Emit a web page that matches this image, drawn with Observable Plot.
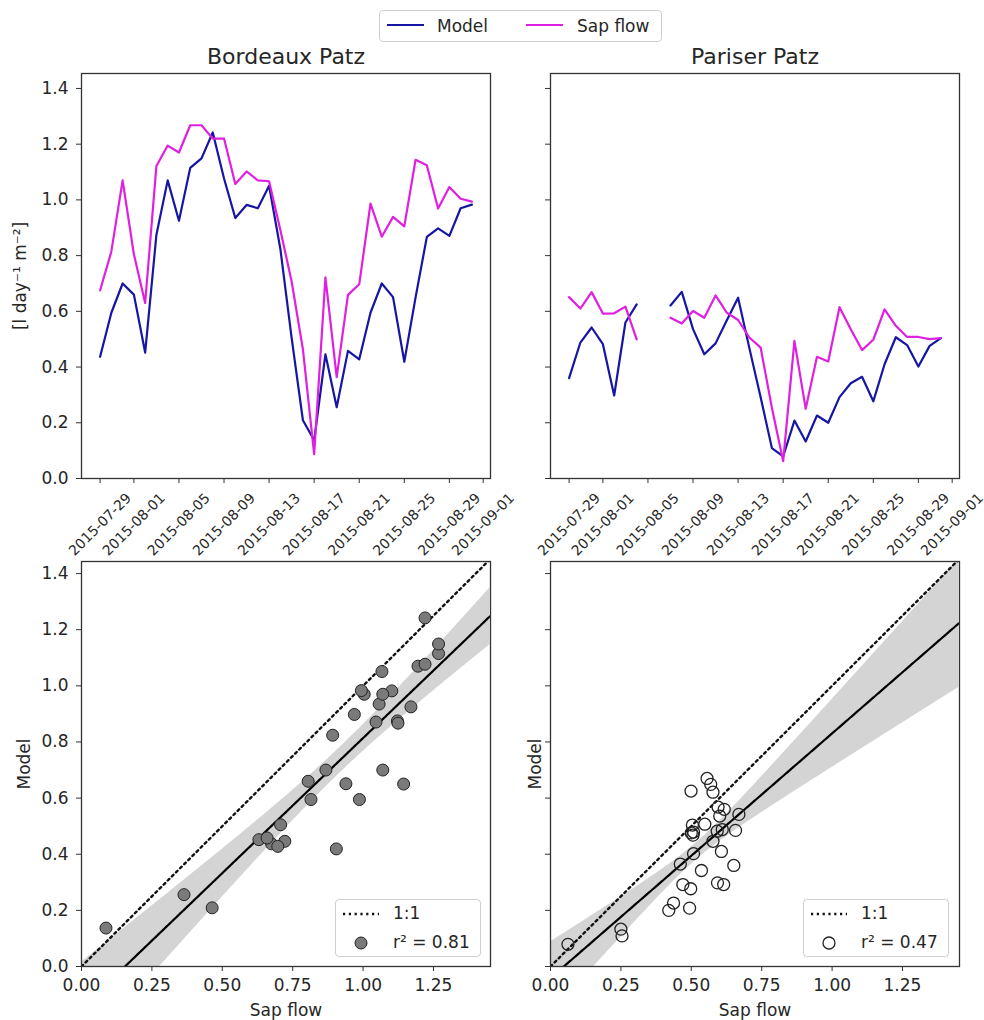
<!DOCTYPE html>
<html><head><meta charset="utf-8">
<script src="https://cdn.jsdelivr.net/npm/d3@7"></script>
<script src="https://cdn.jsdelivr.net/npm/@observablehq/plot@0.6"></script>
<style>
body{margin:0;background:#fff;font-family:"DejaVu Sans",sans-serif;color:#262626}
#fig{position:relative;width:984px;height:1020px;overflow:hidden;background:#fff}
.abs{position:absolute}
.lg{position:absolute;border:1px solid #cfcfcf;border-radius:4px;background:rgba(255,255,255,0.85);box-sizing:border-box}
.lg span{position:absolute;font-size:17px;line-height:20px;white-space:nowrap}
.lg svg{position:absolute;left:0;top:0;overflow:visible}
</style></head><body><div id="fig"></div>
<script>
// ---------------- data ----------------
const startDate = "2015-07-29";
const endDate = "2015-09-01"; // exclusive: last day 2015-08-31
const panelTitles = ["Bordeaux Patz", "Pariser Patz"];
const seriesNames = ["Model", "Sap flow"];
const dateTickLabels = ["2015-07-29","2015-08-01","2015-08-05","2015-08-09","2015-08-13","2015-08-17","2015-08-21","2015-08-25","2015-08-29","2015-09-01"];
const yTicks = [0, 0.2, 0.4, 0.6, 0.8, 1.0, 1.2, 1.4];
const xTicksScatter = [0, 0.25, 0.5, 0.75, 1.0, 1.25];
const yLabelTop = "[l day\u207B\u00B9 m\u207B\u00B2]";
const xLabelScatter = "Sap flow";
const yLabelScatter = "Model";
const oneToOneLabel = "1:1";
const r2Labels = ["r\u00B2 = 0.81", "r\u00B2 = 0.47"];

const bordeauxModel = [0.437,0.595,0.70,0.66,0.452,0.875,1.07,0.925,1.115,1.149,1.242,1.077,0.935,0.982,0.97,1.051,0.824,0.505,0.209,0.137,0.446,0.256,0.458,0.428,0.595,0.70,0.651,0.419,0.65,0.867,0.898,0.871,0.97,0.983];
const bordeauxSap   = [0.675,0.815,1.07,0.805,0.63,1.122,1.195,1.17,1.268,1.268,1.22,1.22,1.057,1.102,1.07,1.067,0.892,0.707,0.464,0.087,0.722,0.364,0.659,0.697,0.987,0.868,0.939,0.905,1.144,1.124,0.969,1.046,1.004,0.994];
const pariserModel  = [0.36,0.488,0.542,0.482,0.298,0.56,0.625,null,null,0.621,0.67,0.536,0.446,0.485,0.568,0.649,0.468,0.292,0.109,0.079,0.208,0.133,0.226,0.20,0.292,0.342,0.365,0.277,0.41,0.507,0.479,0.402,0.476,0.504];
const pariserSap    = [0.651,0.61,0.669,0.592,0.593,0.617,0.499,null,null,0.577,0.556,0.601,0.577,0.657,0.595,0.569,0.506,0.47,0.254,0.062,0.494,0.25,0.437,0.42,0.615,0.536,0.461,0.498,0.607,0.548,0.508,0.508,0.50,0.504];

// ---------------- styles ----------------
const MODEL_COLOR = "#1616a4";
const SAP_COLOR = "#e020e0";
const INK = "#262626";
const FONT = "DejaVu Sans";
const CI_T = [2.04, 1.45]; // band half-width multiplier per site (visual match to the bootstrap band)

const dates = d3.utcDay.range(new Date(startDate), new Date(endDate));
const dateTicks = dateTickLabels.map(s => new Date(s));
const span = dates[dates.length - 1] - dates[0];
const xDomTime = [new Date(+dates[0] - 0.05 * span), new Date(+dates[dates.length - 1] + 0.05 * span)];

const fig = document.getElementById("fig");
function place(node, left, top, width) {
  const d = document.createElement("div");
  d.className = "abs";
  d.style.left = left + "px"; d.style.top = top + "px"; d.style.width = width + "px";
  d.appendChild(node); fig.appendChild(d);
}
const baseStyle = {background: "transparent", fontFamily: FONT, fontSize: "17px", color: INK, overflow: "visible"};

function tsPanel(model, sap, title, showYLabels) {
  const rows = dates.map((d, i) => ({date: d, model: model[i], sap: sap[i]}));
  return Plot.plot({
    width: 515, height: 570, marginLeft: 81, marginRight: 25, marginTop: 73, marginBottom: 92,
    x: {type: "utc", domain: xDomTime, axis: null},
    y: {domain: [0, 1.4537], axis: null},
    style: baseStyle,
    marks: [
      Plot.line(rows, {x: "date", y: "model", stroke: MODEL_COLOR, strokeWidth: 2.2}),
      Plot.line(rows, {x: "date", y: "sap", stroke: SAP_COLOR, strokeWidth: 2.2}),
      Plot.frame({stroke: "#333", strokeWidth: 1.3}),
      Plot.axisY(yTicks, {tickSize: 5, tickPadding: 8, stroke: "#333", tickFormat: showYLabels ? d3.format(".1f") : () => "", label: null}),
      Plot.axisX(dateTicks, {tickSize: 5, stroke: "#333", tickFormat: () => "", label: null}),
      Plot.text(dateTicks, {x: d => d, frameAnchor: "bottom", dy: 46, text: d => d3.utcFormat("%Y-%m-%d")(d), rotate: -45, textAnchor: "middle", lineAnchor: "middle", fontSize: 14}),
      Plot.text([title], {frameAnchor: "top", dy: -10, text: d => d, lineAnchor: "bottom", fontSize: 22}),
      ...(showYLabels ? [Plot.text([yLabelTop], {frameAnchor: "left", dx: -61, text: d => d, rotate: -90, textAnchor: "middle", lineAnchor: "middle", fontSize: 17})] : [])
    ]
  });
}

function fitBand(xs, ys, grid, t) {
  const n = xs.length, mx = d3.mean(xs), my = d3.mean(ys);
  let sxx = 0, sxy = 0;
  for (let i = 0; i < n; i++) { sxx += (xs[i] - mx) ** 2; sxy += (xs[i] - mx) * (ys[i] - my); }
  const b = sxy / sxx, a = my - b * mx;
  let sse = 0;
  for (let i = 0; i < n; i++) sse += (ys[i] - a - b * xs[i]) ** 2;
  const s = Math.sqrt(sse / (n - 2));
  return grid.map(x => {
    const yh = a + b * x, h = t * s * Math.sqrt(1 / n + (x - mx) ** 2 / sxx);
    return {x, y: yh, lo: yh - h, hi: yh + h};
  });
}

const xDomScatter = [0, 1.4525];
const yDomScatter = [0, 1.443];

function scatterPanel(model, sap, filled, showYLabels, yLabelDx, t) {
  const pts = sap.map((s, i) => ({sap: s, model: model[i]})).filter(d => d.sap != null && d.model != null);
  const grid = d3.range(xDomScatter[0], xDomScatter[1] + 1e-9, 0.005);
  const fit = fitBand(pts.map(d => d.sap), pts.map(d => d.model), grid, t);
  return Plot.plot({
    width: 515, height: 520, marginLeft: 81, marginRight: 25, marginTop: 61, marginBottom: 54,
    x: {domain: xDomScatter, axis: null},
    y: {domain: yDomScatter, axis: null},
    style: baseStyle,
    marks: [
      Plot.areaY(fit, {x: "x", y1: "lo", y2: "hi", fill: "#000", fillOpacity: 0.17, clip: true}),
      Plot.line(xDomScatter, {x: d => d, y: d => d, stroke: "#111", strokeWidth: 2.4, strokeDasharray: "2.2,3.6", clip: true}),
      Plot.line(fit, {x: "x", y: "y", stroke: "#000", strokeWidth: 2.2, clip: true}),
      Plot.dot(pts, {x: "sap", y: "model", r: 6, fill: filled ? "#7a7a7a" : "none", stroke: "#222", strokeWidth: filled ? 1 : 1.3}),
      Plot.frame({stroke: "#333", strokeWidth: 1.3}),
      Plot.axisY(yTicks, {tickSize: 5, tickPadding: 8, stroke: "#333", tickFormat: showYLabels ? d3.format(".1f") : () => "", label: null}),
      Plot.axisX(xTicksScatter, {tickSize: 5, tickPadding: 7, stroke: "#333", tickFormat: d3.format(".2f"), label: null}),
      Plot.text([xLabelScatter], {frameAnchor: "bottom", dy: 44, text: d => d, lineAnchor: "middle", fontSize: 17}),
      Plot.text([yLabelScatter], {frameAnchor: "left", dx: yLabelDx, text: d => d, rotate: -90, textAnchor: "middle", lineAnchor: "middle", fontSize: 17})
    ]
  });
}

place(tsPanel(bordeauxModel, bordeauxSap, panelTitles[0], true), 0, 0, 515);
place(tsPanel(pariserModel, pariserSap, panelTitles[1], false), 469, 0, 515);
place(scatterPanel(bordeauxModel, bordeauxSap, true, true, -57, CI_T[0]), 0, 500, 515);
place(scatterPanel(pariserModel, pariserSap, false, false, -15, CI_T[1]), 469, 500, 515);

// ---------------- legends ----------------
function topLegend() {
  const d = document.createElement("div");
  d.className = "lg";
  Object.assign(d.style, {left: "379px", top: "10px", width: "283px", height: "32px"});
  d.innerHTML = `<svg width="283" height="32">
    <line x1="7" x2="44" y1="14" y2="14" stroke="${MODEL_COLOR}" stroke-width="2.2"/>
    <line x1="146" x2="183" y1="14" y2="14" stroke="${SAP_COLOR}" stroke-width="2.2"/></svg>
    <span style="left:57px;top:5px">${seriesNames[0]}</span>
    <span style="left:197px;top:5px">${seriesNames[1]}</span>`;
  fig.appendChild(d);
}
function scatterLegend(left, label, filled) {
  const d = document.createElement("div");
  d.className = "lg";
  Object.assign(d.style, {left: left + "px", top: "899px", width: "146px", height: "58px"});
  d.innerHTML = `<svg width="146" height="58">
    <line x1="7" x2="43" y1="14" y2="14" stroke="#111" stroke-width="2.4" stroke-dasharray="2.2,3.6"/>
    <circle cx="25" cy="43" r="6" fill="${filled ? "#7a7a7a" : "none"}" stroke="#222" stroke-width="${filled ? 1 : 1.3}"/></svg>
    <span style="left:57px;top:3px">${oneToOneLabel}</span>
    <span style="left:57px;top:32px">${label}</span>`;
  fig.appendChild(d);
}
topLegend();
scatterLegend(335, r2Labels[0], true);
scatterLegend(803, r2Labels[1], false);
</script></body></html>
